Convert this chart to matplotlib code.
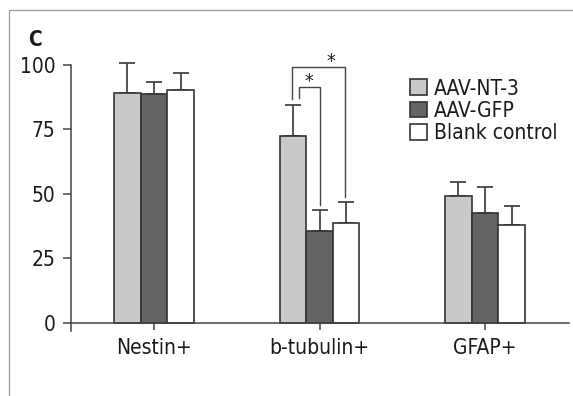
import numpy as np
import matplotlib.pyplot as plt
from matplotlib.patches import Rectangle

plt.rcParams['font.family'] = ['DejaVu Sans']
plt.rcParams['font.stretch'] = 'condensed'

# data
categories = ['Nestin+', 'b-tubulin+', 'GFAP+']
groups = ['AAV-NT-3', 'AAV-GFP', 'Blank control']
means = {
    'AAV-NT-3': [89.0, 72.5, 49.2],
    'AAV-GFP': [88.6, 35.7, 42.5],
    'Blank control': [90.3, 38.9, 38.0],
}
errors = {
    'AAV-NT-3': [11.6, 12.0, 5.6],
    'AAV-GFP': [4.9, 8.1, 10.2],
    'Blank control': [6.7, 8.0, 7.3],
}
yticks = [0, 25, 50, 75, 100]

colors = ['#c8c9cb', '#646466', '#ffffff']
edge = '#333333'
line_col = '#444444'

fig = plt.figure(figsize=(5.73, 3.96), dpi=100)
ax = fig.add_axes([0.1234, 0.1649, 0.8696, 0.671])

# thin frame around the panel (runs off the right and bottom)
fig.patches.append(Rectangle((9 / 573, -0.1), 1.2, 1 - 10 / 396 + 0.1,
                             transform=fig.transFigure, fill=False,
                             edgecolor='#9a9a9a', linewidth=0.9))

x = np.arange(len(categories))
w = 0.161
for i, g in enumerate(groups):
    xs = x + (i - 1) * w
    ax.bar(xs, means[g], width=w, color=colors[i], edgecolor=edge,
           linewidth=1.2, label=g, zorder=2)
    eb = ax.errorbar(xs, means[g], yerr=[np.zeros(len(xs)), errors[g]],
                     fmt='none', ecolor=line_col, elinewidth=1.3, capsize=6,
                     capthick=1.3, zorder=1)
    for art in eb.lines[1] + eb.lines[2]:
        art.set_clip_on(False)

# significance brackets on b-tubulin+
bc = x[1]
ax.plot([bc - 0.123, bc - 0.123, bc, bc], [87.2, 91.6, 91.6, 45.7],
        color=line_col, lw=1.0, zorder=3)
ax.plot([bc - 0.167, bc - 0.167, bc + 0.155, bc + 0.155], [86.7, 99.1, 99.1, 49.0],
        color=line_col, lw=1.0, zorder=3, clip_on=False)
ax.text(bc - 0.066, 93.5, '*', ha='center', va='center', fontsize=14,
        color='#222222')
ax.text(bc + 0.071, 101.5, '*', ha='center', va='center', fontsize=14,
        color='#222222', clip_on=False)

ax.set_xlim(-0.503, 2.507)
ax.set_ylim(-3, 100)
ax.spines['top'].set_visible(False)
ax.spines['right'].set_visible(False)
ax.spines['bottom'].set_position(('data', 0))
for s in ['left', 'bottom']:
    ax.spines[s].set_color(line_col)
    ax.spines[s].set_linewidth(1.1)

ax.set_yticks(yticks)
ax.set_xticks(x)
ax.set_xticklabels(categories)
ax.tick_params(axis='y', length=6, width=1.1, color=line_col, pad=5,
               labelsize=15, labelcolor='#1a1a1a')
ax.tick_params(axis='x', length=5, width=1.1, color=line_col, pad=6,
               labelsize=15, labelcolor='#1a1a1a')

ax.legend(loc='upper left', bbox_to_anchor=(0.665, 0.98), frameon=False,
          fontsize=15, handlelength=0.8, handleheight=0.8,
          handletextpad=0.35, labelspacing=0.1, borderaxespad=0,
          labelcolor='#1a1a1a')

fig.text(28 / 573, 1 - 46 / 396, 'C', fontsize=15, fontweight='bold',
         color='#1a1a1a', ha='left', va='baseline')

fig.savefig('out.png', dpi=100)
